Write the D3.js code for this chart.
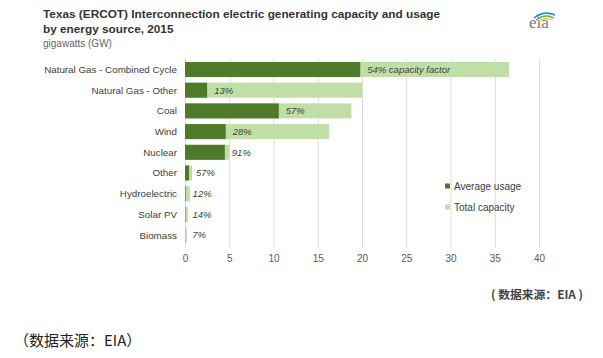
<!DOCTYPE html>
<html><head><meta charset="utf-8">
<script src="https://cdn.jsdelivr.net/npm/d3@7"></script>
<style>
body{margin:0;background:#fff;}
svg{display:block;font-family:"Liberation Sans",Arial,sans-serif;}
</style></head>
<body>
<svg id="c" width="603" height="358"></svg>
<script>
const categories = ["Natural Gas - Combined Cycle","Natural Gas - Other","Coal","Wind","Nuclear","Other","Hydroelectric","Solar PV","Biomass"];
const capacity = [36.6, 20.0, 18.8, 16.3, 5.0, 0.8, 0.55, 0.35, 0.2];
const usage = [19.8, 2.5, 10.6, 4.6, 4.5, 0.45, 0.07, 0.05, 0.015];
const factorLabels = ["54% capacity factor","13%","57%","28%","91%","57%","12%","14%","7%"];
const xTicks = [0,5,10,15,20,25,30,35,40];
const legendItems = ["Average usage","Total capacity"];

const DARK = "#4e7a2a", LIGHT = "#bfdfa6";
const svg = d3.select("#c");

const x = d3.scaleLinear().domain([0,40]).range([185,539]);
const y = d3.scaleBand().domain(categories).range([59,245.6]).paddingInner(0.275).paddingOuter(0.145);

// gridlines + axis labels
const gAxis = svg.append("g").attr("transform","translate(0,248)");
gAxis.call(d3.axisBottom(x).tickValues(xTicks).tickSize(-189).tickPadding(7).tickFormat(d3.format("d")));
gAxis.select(".domain").remove();
gAxis.selectAll(".tick line").attr("stroke","#dcdcdc").attr("stroke-width",1);
gAxis.selectAll(".tick text").attr("fill","#595959").attr("font-size","10px").attr("font-family","Liberation Sans, Arial, sans-serif");

// bars
const rows = svg.append("g").selectAll("g").data(categories).join("g");
rows.append("rect").attr("x", x(0)).attr("y", d=>y(d)).attr("height", y.bandwidth())
  .attr("width", (d,i)=>x(capacity[i])-x(0)).attr("fill", LIGHT);
rows.append("rect").attr("x", x(0)).attr("y", d=>y(d)).attr("height", y.bandwidth())
  .attr("width", (d,i)=>x(usage[i])-x(0)).attr("fill", DARK);
rows.append("text").attr("x", (d,i)=>x(usage[i])+7).attr("y", d=>y(d)+y.bandwidth()/2).attr("dy","0.35em")
  .attr("font-size","9.5px").attr("font-style","italic").attr("fill","#404040").text((d,i)=>factorLabels[i]);

// category labels
svg.append("g").selectAll("text").data(categories).join("text")
  .attr("x",177).attr("y", d=>y(d)+y.bandwidth()/2).attr("dy","0.35em").attr("text-anchor","end")
  .attr("font-size","9.8px").attr("fill","#404040").text(d=>d);

// legend
const leg = svg.append("g").selectAll("g").data(legendItems).join("g")
  .attr("transform",(d,i)=>`translate(445,${186+i*21})`);
leg.append("rect").attr("x",0).attr("y",-2.5).attr("width",5).attr("height",5).attr("fill",(d,i)=>i===0?DARK:LIGHT);
leg.append("text").attr("x",9).attr("y",0).attr("dy","0.35em").attr("font-size","10px").attr("fill","#404040").text(d=>d);

// title
svg.append("text").attr("x",43).attr("y",18).attr("font-size","11.8px").attr("font-weight","bold").attr("fill","#333")
  .text("Texas (ERCOT) Interconnection electric  generating capacity and usage");
svg.append("text").attr("x",43).attr("y",33).attr("font-size","11.8px").attr("font-weight","bold").attr("fill","#333")
  .text("by energy source, 2015");
svg.append("text").attr("x",43).attr("y",47).attr("font-size","10px").attr("fill","#666").text("gigawatts (GW)");

// eia logo
const logo = svg.append("g");
logo.append("text").attr("x",529).attr("y",28).attr("font-family","Liberation Serif, DejaVu Serif, serif")
  .attr("font-size","17px").attr("fill","#7a7b7e").text("eia");
logo.append("path").attr("d","M534,18 Q544,10 555,15").attr("fill","none").attr("stroke","#2a8fc9").attr("stroke-width",1.6);
logo.append("path").attr("d","M536,20 Q545,13 554,18").attr("fill","none").attr("stroke","#5fb157").attr("stroke-width",1.4);
logo.append("path").attr("d","M538,22 Q546,16 553,20").attr("fill","none").attr("stroke","#f2c232").attr("stroke-width",1.2);

// source notes
svg.append("text").attr("x",583).attr("y",299).attr("text-anchor","end")
  .attr("font-family","Noto Sans CJK SC, sans-serif").attr("font-size","11.8px").attr("font-weight","bold").attr("fill","#444")
  .text("( 数据来源：EIA )");
svg.append("text").attr("x",14).attr("y",346)
  .attr("font-family","Noto Sans CJK SC, sans-serif").attr("font-size","15px").attr("fill","#222")
  .text("（数据来源：EIA）");
</script>
</body></html>
